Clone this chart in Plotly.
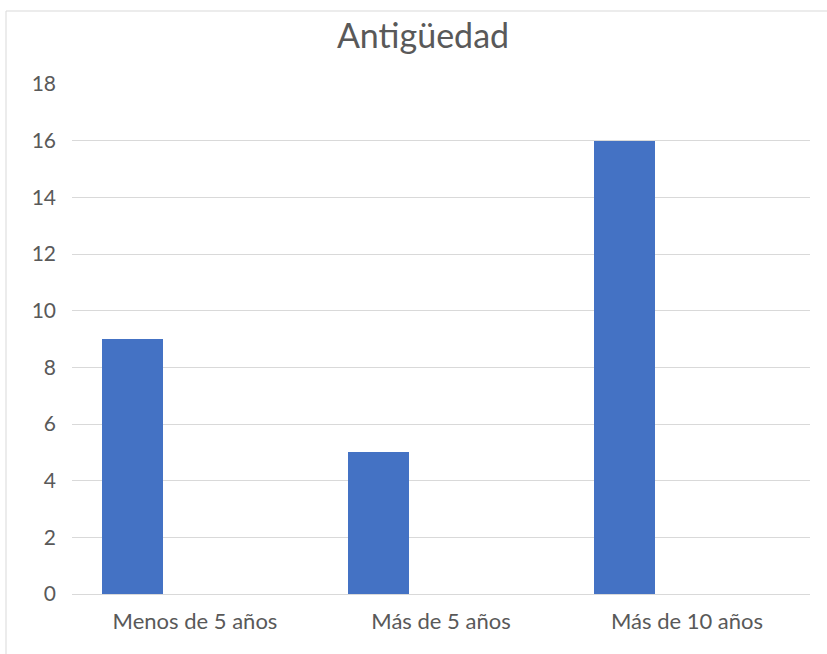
import plotly.graph_objects as go

categories = ["Menos de 5 años", "Más de 5 años", "Más de 10 años"]
values = [9, 5, 16]
y_ticks = [0, 2, 4, 6, 8, 10, 12, 14, 16, 18]

W, H = 827, 654
L, R, T, B = 72, 17, 84, 60
pw = W - L - R
ph = H - T - B

fig = go.Figure()
fig.add_trace(go.Bar(
    x=categories, y=values,
    marker=dict(color="#4472c4", line=dict(width=0)),
    width=0.248, offset=-0.378,
    hoverinfo="x+y",
))

gray = "#595959"
fig.update_layout(
    width=W, height=H,
    margin=dict(l=L, r=R, t=T, b=B),
    paper_bgcolor="white", plot_bgcolor="white",
    font=dict(family="Lato, Carlito, sans-serif", color=gray),
    title=dict(text="Antigüedad", x=423 / W, xanchor="center",
               y=1 - 36 / H, yanchor="middle",
               font=dict(size=34, color=gray)),
    showlegend=False,
    bargap=0,
    xaxis=dict(
        type="category", showgrid=False, zeroline=False,
        showline=True, linecolor="#d9d9d9", linewidth=1,
        ticks="", tickfont=dict(size=22, color=gray),
        ticklabelstandoff=8,
        range=[-0.5, 2.5],
    ),
    yaxis=dict(
        range=[0, 18], tickvals=y_ticks, showgrid=True,
        gridcolor="#d9d9d9", gridwidth=1, zeroline=False,
        showline=False, ticks="", tickfont=dict(size=21, color=gray),
        ticklabelstandoff=15,
    ),
    shapes=[dict(
        type="rect", xref="paper", yref="paper",
        x0=(6 - L) / pw, x1=(W + 10 - L) / pw,
        y0=(H - B - (H + 10)) / ph, y1=(H - B - 11) / ph,
        line=dict(color="#d9d9d9", width=1), fillcolor="rgba(0,0,0,0)",
        layer="below",
    )],
)

fig.write_html("out.html", config={"displayModeBar": False},
               post_script="document.body.style.margin='0';")
